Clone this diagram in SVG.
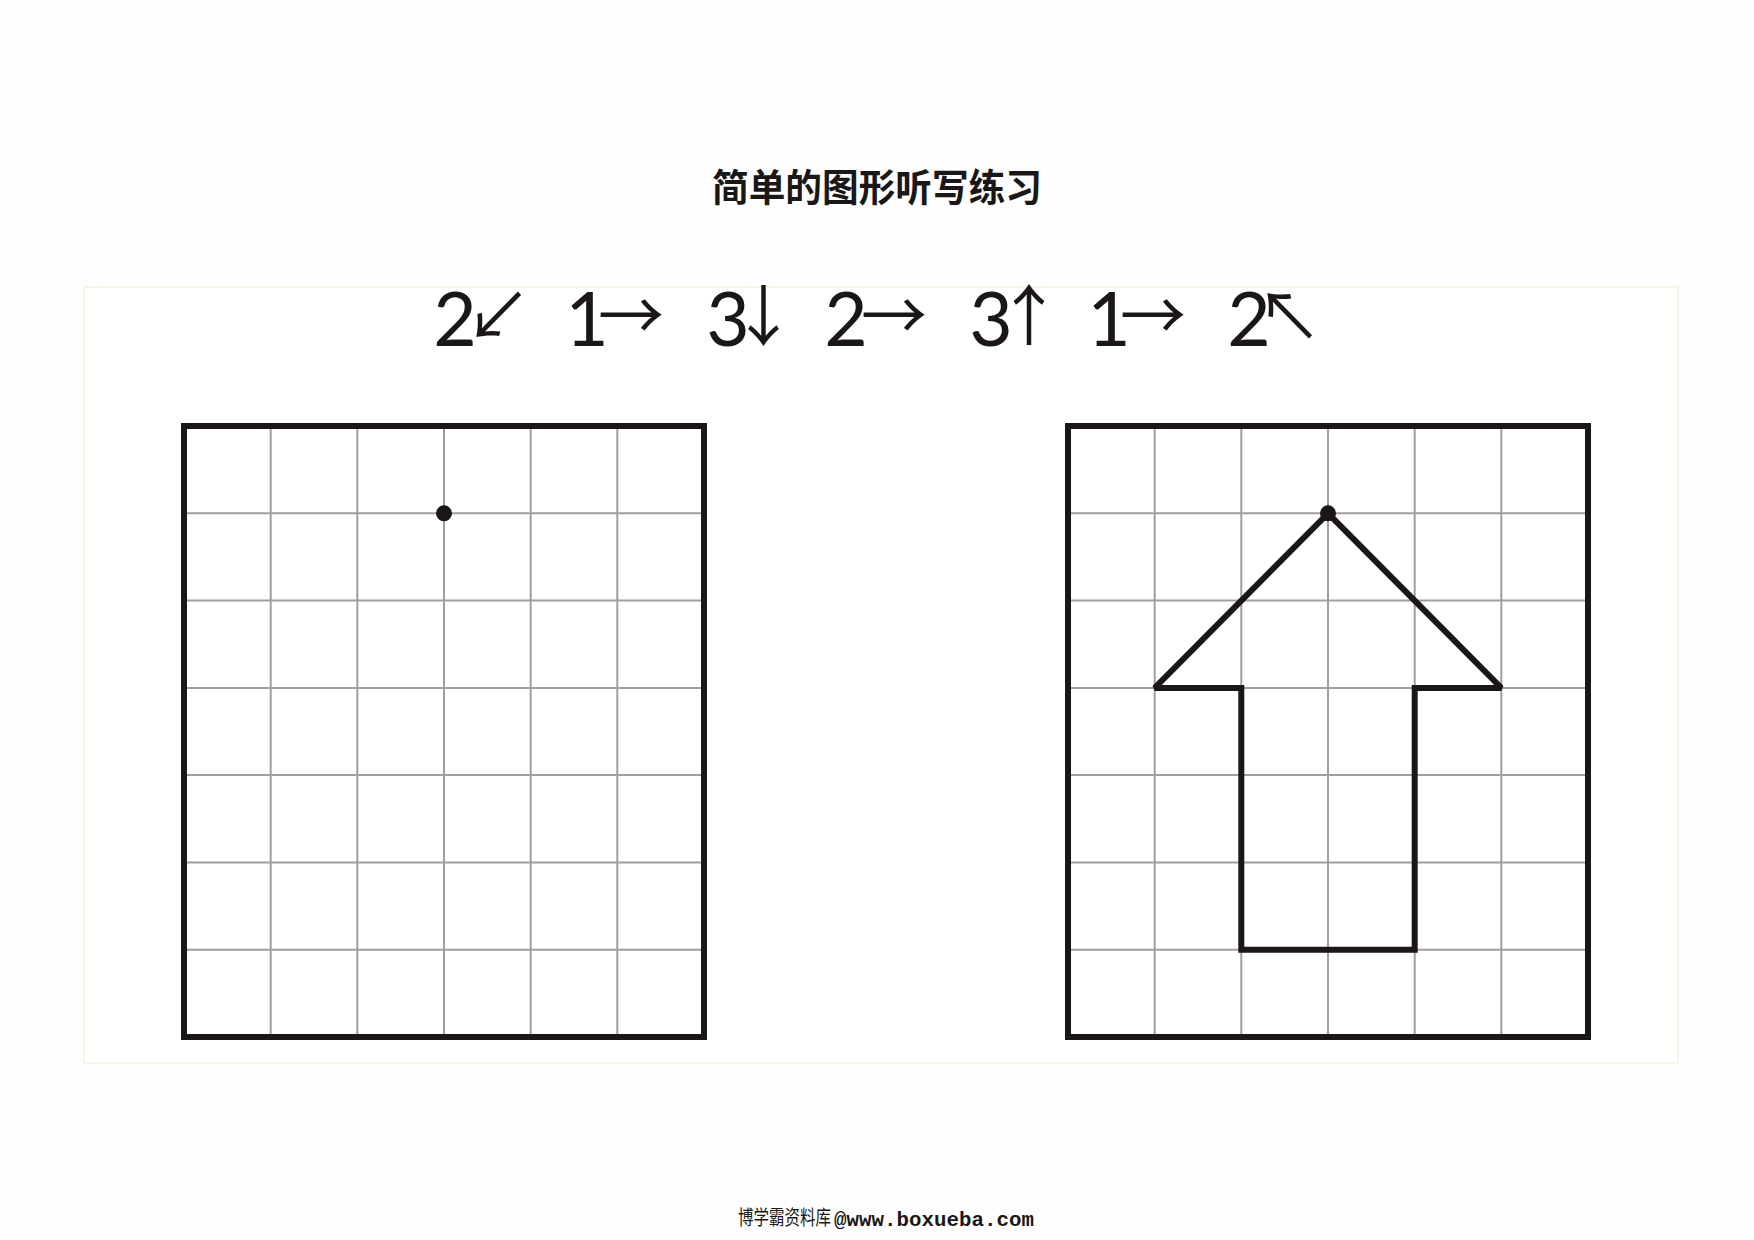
<svg xmlns="http://www.w3.org/2000/svg" width="1754" height="1240" viewBox="0 0 1754 1240">
<defs>
<style>
.border{fill:none;stroke:#1a1716;stroke-width:6;stroke-linejoin:miter}
.grid{stroke:#a39d9d;stroke-width:2;fill:none}
.shape{fill:none;stroke:#1a1716;stroke-width:6;stroke-linejoin:miter;stroke-miterlimit:1.5}
.dot{fill:#1a1716}
.ins{fill:#1a1716;text-anchor:middle}
.digit{font-family:Lato,"Liberation Sans",sans-serif;font-size:75px}
.arr{font-family:"Noto Sans CJK SC","DejaVu Sans",sans-serif;font-size:66px}
.title{font-family:"Noto Sans CJK SC","Noto Sans",sans-serif;font-weight:bold;font-size:38px;fill:#1a1716}
.foot-cn{font-family:"Noto Sans CJK SC",sans-serif;font-size:20px;fill:#1a1716}
.foot-en{font-family:"Liberation Mono",monospace;font-size:20.5px;fill:#1a1716;font-weight:bold}
</style>
</defs>
<rect x="0" y="0" width="1754" height="1240" fill="#fefefe"/>
<rect x="84" y="287" width="1594" height="776" fill="#fffffe" stroke="#f6f5ea" stroke-width="2"/>

<g id="title">
<text class="title" x="712" y="201" textLength="330" lengthAdjust="spacingAndGlyphs">简单的图形听写练习</text>
</g>

<g id="instructions">
<text class="ins" y="346"><tspan class="digit" x="455">2</tspan><tspan class="arr" x="498" y="340">↙</tspan></text>
<text class="ins" y="346"><tspan class="digit" x="587">1</tspan><tspan class="arr" x="631" y="340">→</tspan></text>
<text class="ins" y="346"><tspan class="digit" x="728">3</tspan><tspan class="arr" x="763.5" y="340">↓</tspan></text>
<text class="ins" y="346"><tspan class="digit" x="846">2</tspan><tspan class="arr" x="894" y="340">→</tspan></text>
<text class="ins" y="346"><tspan class="digit" x="991">3</tspan><tspan class="arr" x="1029" y="340">↑</tspan></text>
<text class="ins" y="346"><tspan class="digit" x="1109">1</tspan><tspan class="arr" x="1153" y="340">→</tspan></text>
<text class="ins" y="346"><tspan class="digit" x="1249">2</tspan><tspan class="arr" x="1289" y="340">↖</tspan></text>
</g>

<g id="grid-left">
<path class="grid" d="M270.7,426V1037M357.3,426V1037M444,426V1037M530.7,426V1037M617.3,426V1037M184,513.3H704M184,600.6H704M184,687.9H704M184,775.1H704M184,862.4H704M184,949.7H704"/>
<rect class="border" x="184" y="426" width="520" height="611"/>
<circle class="dot" cx="444" cy="513.3" r="8"/>
</g>

<g id="grid-right">
<path class="grid" d="M1154.7,426V1037M1241.3,426V1037M1328,426V1037M1414.7,426V1037M1501.3,426V1037M1068,513.3H1588M1068,600.6H1588M1068,687.9H1588M1068,775.1H1588M1068,862.4H1588M1068,949.7H1588"/>
<rect class="border" x="1068" y="426" width="520" height="611"/>
<path class="shape" d="M1328,513.3L1154.7,687.9H1241.3V949.7H1414.7V687.9H1501.3Z"/>
<circle class="dot" cx="1328" cy="513.3" r="8"/>
</g>

<g id="footer">
<text class="foot-cn" x="738" y="1225" textLength="93" lengthAdjust="spacingAndGlyphs">博学霸资料库</text>
<text class="foot-en" x="834" y="1226" textLength="200" lengthAdjust="spacingAndGlyphs">@www.boxueba.com</text>
</g>
</svg>
